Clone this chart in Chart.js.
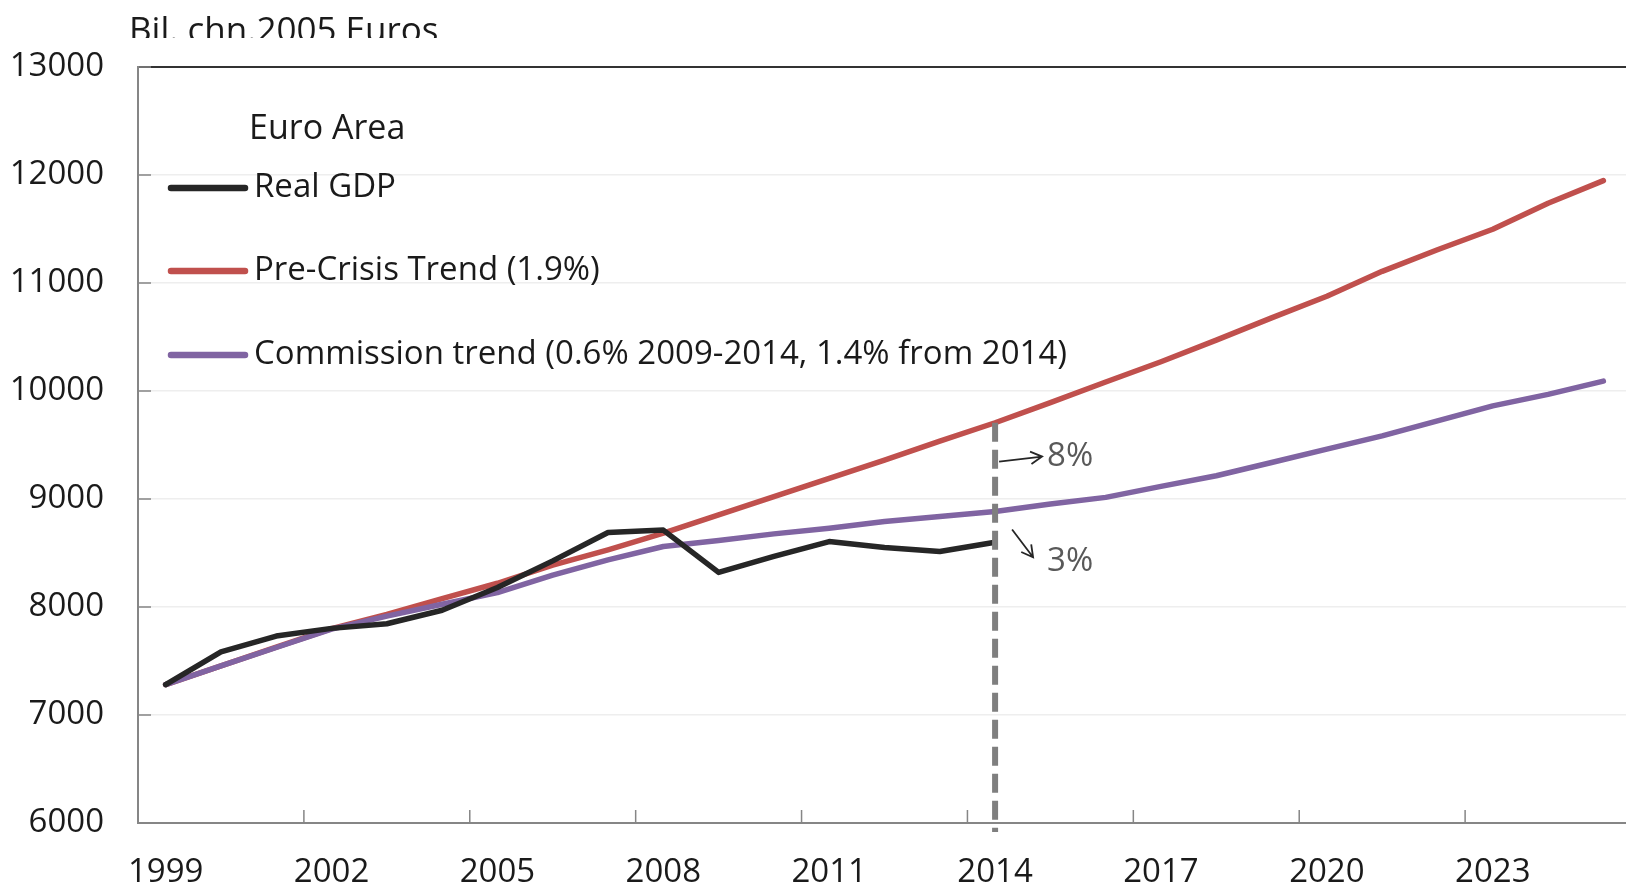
<!DOCTYPE html>
<html>
<head>
<meta charset="utf-8">
<script src="https://cdn.jsdelivr.net/npm/chart.js@4.4.1/dist/chart.umd.min.js"></script>
<style>
  html, body { margin: 0; padding: 0; background: #ffffff; overflow: hidden; }
  #wrap { width: 1640px; height: 887px; }
</style>
</head>
<body>
<div id="wrap"><canvas id="gdpChart" width="1640" height="887"></canvas></div>
<script>
// Euro area GDP, billions of chained 2005 euros
const years = ['1999', '2000', '2001', '2002', '2003', '2004', '2005', '2006', '2007', '2008',
  '2009', '2010', '2011', '2012', '2013', '2014', '2015', '2016', '2017', '2018',
  '2019', '2020', '2021', '2022', '2023', '2024', '2025'];
const realGdp = [7282, 7585, 7731, 7802, 7845, 7970, 8180, 8427, 8690, 8712,
  8320, 8468, 8606, 8551, 8514, 8600];
const preCrisisTrend = [7282, 7455, 7628, 7800, 7932, 8077, 8220, 8387, 8529, 8683,
  8852, 9022, 9191, 9360, 9535, 9706, 9892, 10083, 10271, 10471,
  10677, 10877, 11108, 11308, 11498, 11738, 11948];
const commissionTrend = [7282, 7455, 7625, 7795, 7916, 8025, 8133, 8295, 8437, 8560,
  8615, 8677, 8729, 8791, 8837, 8885, 8954, 9015, 9117, 9215,
  9338, 9462, 9585, 9723, 9862, 9969, 10092];
const yTicks = [6000, 7000, 8000, 9000, 10000, 11000, 12000, 13000];
const seriesLabels = ['Real GDP', 'Pre-Crisis Trend (1.9%)', 'Commission trend (0.6% 2009-2014, 1.4% from 2014)'];
const gapYear = '2014';
const gapLabels = ['8%', '3%'];

const colors = {
  gdp: '#262626',
  trend: '#c0504d',
  commission: '#8064a2',
  axis: '#868686',
  grid: '#eeeeee',
  text: '#1a1a1a',
  note: '#595959'
};
const FONT = '"Open Sans", "DejaVu Sans", sans-serif';

function arrow(ctx, x1, y1, x2, y2) {
  const a = Math.atan2(y2 - y1, x2 - x1);
  const h = 13;
  ctx.beginPath();
  ctx.moveTo(x1, y1);
  ctx.lineTo(x2, y2);
  ctx.moveTo(x2 - h * Math.cos(a - 0.5), y2 - h * Math.sin(a - 0.5));
  ctx.lineTo(x2, y2);
  ctx.lineTo(x2 - h * Math.cos(a + 0.5), y2 - h * Math.sin(a + 0.5));
  ctx.stroke();
}

// title, in-plot legend, inward tick marks and the 2014 gap markers
const overlay = {
  id: 'overlay',
  afterDatasetsDraw(chart) {
    const { ctx, chartArea: area, scales: { x, y } } = chart;
    const i = years.indexOf(gapYear);
    const gx = x.getPixelForValue(i);

    ctx.save();
    // dashed line from trend down through the axis
    ctx.strokeStyle = '#7f7f7f';
    ctx.lineWidth = 6;
    ctx.setLineDash([19, 8]);
    ctx.beginPath();
    ctx.moveTo(gx, y.getPixelForValue(preCrisisTrend[i]));
    ctx.lineTo(gx, area.bottom + 9);
    ctx.stroke();
    ctx.setLineDash([]);

    // arrows and percentage notes
    ctx.strokeStyle = '#262626';
    ctx.lineWidth = 1.8;
    arrow(ctx, gx + 4, y.getPixelForValue(9347), gx + 47, y.getPixelForValue(9393));
    arrow(ctx, gx + 17, y.getPixelForValue(8718), gx + 38, y.getPixelForValue(8460));
    ctx.fillStyle = colors.note;
    ctx.font = '33px ' + FONT;
    ctx.textAlign = 'left';
    ctx.textBaseline = 'middle';
    ctx.fillText(gapLabels[0], gx + 52, y.getPixelForValue(9393));
    ctx.fillText(gapLabels[1], gx + 52, y.getPixelForValue(8423));
    ctx.restore();
  },
  afterDraw(chart) {
    const { ctx, chartArea: area, scales: { x, y } } = chart;
    ctx.save();

    // inward tick marks
    ctx.strokeStyle = colors.axis;
    ctx.lineWidth = 1.5;
    ctx.beginPath();
    yTicks.forEach(v => {
      const py = y.getPixelForValue(v);
      ctx.moveTo(area.left, py);
      ctx.lineTo(area.left + 13, py);
    });
    const half = (x.getPixelForValue(1) - x.getPixelForValue(0)) / 2;
    for (let k = 0; k <= years.length; k += 3) {
      const px = x.getPixelForValue(k) - half;
      ctx.moveTo(px, area.bottom);
      ctx.lineTo(px, area.bottom - 13);
    }
    ctx.stroke();

    // unit title, clipped along its lower edge as in the source
    ctx.save();
    ctx.beginPath();
    ctx.rect(0, 0, chart.width, 38);
    ctx.clip();
    ctx.fillStyle = colors.text;
    ctx.font = '35px ' + FONT;
    ctx.textAlign = 'left';
    ctx.textBaseline = 'alphabetic';
    ctx.fillText('Bil. chn.2005 Euros', 129, 42);
    ctx.restore();

    // legend
    ctx.fillStyle = colors.text;
    ctx.textBaseline = 'middle';
    ctx.font = '34px ' + FONT;
    ctx.fillText('Euro Area', area.left + 111, area.top + 62);
    ctx.font = '33px ' + FONT;
    const rows = [121, 204, 288];
    chart.data.datasets.forEach((ds, k) => {
      const ly = area.top + rows[k];
      ctx.strokeStyle = ds.borderColor;
      ctx.lineWidth = 6.5;
      ctx.lineCap = 'round';
      ctx.beginPath();
      ctx.moveTo(area.left + 33, ly);
      ctx.lineTo(area.left + 107, ly);
      ctx.stroke();
      ctx.fillText(ds.label, area.left + 116, ly);
    });
    ctx.restore();
  }
};

const lineStyle = {
  borderWidth: 5.5,
  pointRadius: 0,
  pointHoverRadius: 0,
  tension: 0,
  fill: false,
  borderCapStyle: 'round',
  borderJoinStyle: 'round'
};

new Chart(document.getElementById('gdpChart'), {
  type: 'line',
  data: {
    labels: years,
    datasets: [
      { label: seriesLabels[0], data: realGdp, borderColor: colors.gdp, order: 1, ...lineStyle },
      { label: seriesLabels[1], data: preCrisisTrend, borderColor: colors.trend, order: 3, ...lineStyle },
      { label: seriesLabels[2], data: commissionTrend, borderColor: colors.commission, order: 2, ...lineStyle }
    ]
  },
  options: {
    responsive: false,
    animation: false,
    events: [],
    layout: { padding: { top: 67, left: 0, right: 9, bottom: 0 } },
    plugins: {
      legend: { display: false },
      tooltip: { enabled: false },
      title: { display: false }
    },
    scales: {
      x: {
        type: 'category',
        offset: true,
        afterFit(scale) { scale.height = 64; },
        grid: { display: true, drawOnChartArea: false, drawTicks: false },
        border: { display: true, color: colors.axis, width: 2 },
        ticks: {
          autoSkip: false,
          maxRotation: 0,
          padding: 30,
          color: colors.text,
          font: { family: FONT, size: 33 },
          callback(value, index) { return index % 3 === 0 ? years[index] : ''; }
        }
      },
      y: {
        min: yTicks[0],
        max: yTicks[yTicks.length - 1],
        afterFit(scale) { scale.width = 138; },
        grid: {
          drawTicks: false,
          lineWidth: ctx => (ctx.tick && ctx.tick.value === 13000 ? 2 : 1.5),
          color: ctx => (ctx.tick && ctx.tick.value === 13000 ? '#333333' : colors.grid)
        },
        border: { display: true, color: colors.axis, width: 2 },
        ticks: {
          stepSize: 1000,
          padding: 34,
          color: colors.text,
          font: { family: FONT, size: 33 },
          callback(value) { return String(value); }
        }
      }
    }
  },
  plugins: [overlay]
});
</script>
</body>
</html>
